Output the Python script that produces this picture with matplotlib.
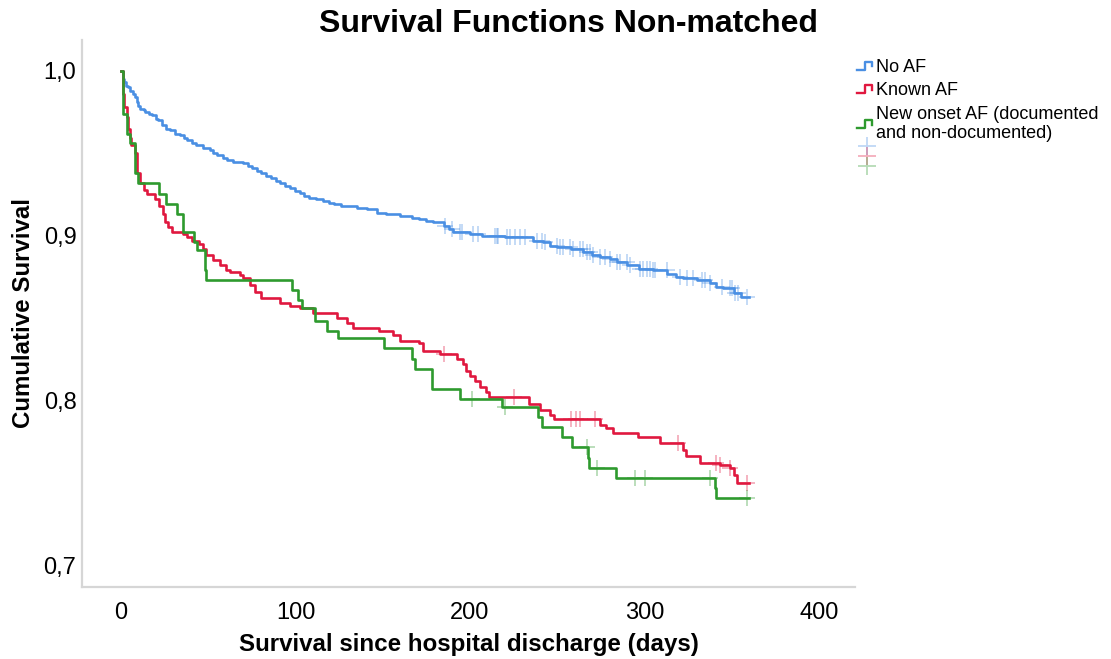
import numpy as np
import matplotlib
matplotlib.use("Agg")
import matplotlib.pyplot as plt
from matplotlib.lines import Line2D
from matplotlib.legend_handler import HandlerBase

plt.rcParams['font.family'] = ['Liberation Sans', 'DejaVu Sans']

# ---------------- data ----------------
title = "Survival Functions Non-matched"
x_label = "Survival since hospital discharge (days)"
y_label = "Cumulative Survival"
series_names = ["No AF", "Known AF", "New onset AF (documented\nand non-documented)"]
x_ticks = [0, 100, 200, 300, 400]
y_ticks = [0.7, 0.8, 0.9, 1.0]
y_tick_labels = ["0,7", "0,8", "0,9", "1,0"]
end_day = 360

no_af_days = [0, 1, 2, 3, 4, 5, 7, 8, 9, 10, 11, 13, 14, 16, 18, 20, 21, 23.5, 26, 28, 31, 34,
              36, 38, 41, 43, 47, 51, 53, 55, 58.5, 61, 64, 70, 73, 75, 78, 80, 83, 86, 89, 91,
              94, 97, 100, 102.6, 105, 108, 112, 116, 119, 122, 126, 129.5, 135, 141, 147,
              152, 160, 167, 171, 175, 179, 185, 188, 190, 200, 207, 220, 236, 242, 246, 250,
              258, 265, 270, 274.5, 280, 284, 290, 297, 305, 313, 318, 322, 330, 337.5, 341,
              345, 351, 355]
no_af_surv = [1.0, 0.995, 0.993, 0.991, 0.990, 0.988, 0.986, 0.984, 0.981, 0.979, 0.977, 0.976,
              0.975, 0.974, 0.973, 0.971, 0.970, 0.967, 0.965, 0.964, 0.962, 0.961, 0.959,
              0.958, 0.956, 0.955, 0.953, 0.952, 0.950, 0.949, 0.947, 0.946, 0.945, 0.944,
              0.942, 0.941, 0.939, 0.938, 0.936, 0.935, 0.933, 0.932, 0.930, 0.929, 0.927,
              0.926, 0.924, 0.923, 0.922, 0.921, 0.920, 0.919, 0.918, 0.918, 0.917, 0.916,
              0.914, 0.913, 0.912, 0.911, 0.910, 0.909, 0.908, 0.906, 0.904, 0.902, 0.901,
              0.900, 0.899, 0.897, 0.896, 0.894, 0.893, 0.892, 0.890, 0.888, 0.887, 0.886,
              0.884, 0.882, 0.880, 0.879, 0.877, 0.875, 0.874, 0.873, 0.871, 0.869, 0.868,
              0.865, 0.863]
no_af_censored = [185.7, 189.5, 194.3, 195.2, 201.9, 204.8, 214.3, 215.3, 216.2, 221.0, 222.9,
                  225.8, 228.7, 231.5, 238.2, 241.1, 243.0, 249.7, 251.6, 253.5, 257.3, 259.2,
                  263.0, 264.9, 266.9, 268.8, 270.7, 274.5, 277.4, 280.2, 284.1, 286.0, 289.8,
                  291.7, 297.4, 299.3, 301.3, 303.2, 305.0, 306.0, 312.7, 320.3, 324.2, 328.0,
                  332.8, 334.7, 337.5, 344.2, 349.0, 350.0, 351.8, 353.8, 358.6]

known_af_days = [0, 1, 2, 3.4, 4, 5, 6, 8, 9, 11, 13, 15, 19.5, 22, 24, 25, 27, 29, 35.5, 38,
                 41, 45, 47, 49, 53, 57, 60, 62.5, 68, 70, 74, 77, 80, 91, 97, 102.6, 110, 124,
                 129.5, 133, 148, 156, 160, 171, 173, 183, 192.5, 196, 198, 200, 203, 206, 209,
                 211, 234, 240, 246, 248, 274.5, 278, 282, 296, 309, 322, 324, 332, 343, 349,
                 351, 353]
known_af_surv = [1.0, 0.986, 0.978, 0.972, 0.965, 0.959, 0.955, 0.950, 0.938, 0.932, 0.928,
                 0.925, 0.922, 0.918, 0.913, 0.908, 0.905, 0.902, 0.901, 0.899, 0.897, 0.895,
                 0.892, 0.888, 0.885, 0.882, 0.879, 0.878, 0.876, 0.874, 0.870, 0.866, 0.862,
                 0.859, 0.857, 0.856, 0.853, 0.850, 0.847, 0.844, 0.842, 0.840, 0.836, 0.835,
                 0.830, 0.828, 0.825, 0.822, 0.818, 0.815, 0.812, 0.808, 0.805, 0.802, 0.798,
                 0.794, 0.791, 0.789, 0.785, 0.783, 0.780, 0.778, 0.774, 0.770, 0.766, 0.762,
                 0.761, 0.759, 0.755, 0.750]
known_af_censored = [185, 225, 258, 261, 263, 271.6, 319, 341, 343, 349, 359]

new_af_days = [0, 1.3, 3.4, 5, 8, 10, 22, 26, 32, 35.5, 42, 43.5, 48, 49, 98, 101.7, 104, 111,
               118, 124.5, 151, 167, 168.5, 178.5, 194, 218.5, 239, 241, 253, 258.5, 267.6,
               268, 283.6, 340.5, 341]
new_af_surv = [1.0, 0.974, 0.962, 0.956, 0.938, 0.932, 0.925, 0.919, 0.913, 0.902, 0.896,
               0.891, 0.879, 0.873, 0.867, 0.861, 0.856, 0.848, 0.842, 0.838, 0.832, 0.825,
               0.819, 0.807, 0.801, 0.796, 0.790, 0.784, 0.778, 0.772, 0.765, 0.759, 0.753,
               0.747, 0.741]
new_af_censored = [201, 220, 267, 273, 294.5, 300, 337.5, 359]

colors = ["#4a8fe3", "#e0183f", "#2e9a2e"]

# ---------------- figure ----------------
fig = plt.figure(figsize=(11.11, 6.59), dpi=100)
ax = fig.add_axes([82 / 1111, 72 / 659, (855 - 82) / 1111, (587 - 40) / 659])

groups = [
    (no_af_days, no_af_surv, no_af_censored),
    (known_af_days, known_af_surv, known_af_censored),
    (new_af_days, new_af_surv, new_af_censored),
]

line_handles = []
for (d, s, c), col in zip(groups, colors):
    d = np.array(list(d) + [end_day], dtype=float)
    s = np.array(list(s) + [s[-1]], dtype=float)
    ln, = ax.step(d, s, where="post", color=col, lw=1.9, zorder=3)
    line_handles.append(ln)
    c = np.array(c, dtype=float)
    idx = np.searchsorted(d, c, side="right") - 1
    ax.plot(c, s[idx], linestyle="none", marker="+", markersize=11, mew=1.3,
            color=col, alpha=0.35, zorder=2)

ax.set_xlim(-22.3, 420.6)
ax.set_ylim(0.6867, 1.0188)
ax.set_xticks(x_ticks)
ax.set_yticks(y_ticks)
ax.set_yticklabels(y_tick_labels)
ax.tick_params(axis="both", length=0, labelsize=17)
ax.tick_params(axis="x", pad=11)
ax.tick_params(axis="y", pad=4)
for sp in ["top", "right"]:
    ax.spines[sp].set_visible(False)
for sp in ["left", "bottom"]:
    ax.spines[sp].set_color("#d6d6d6")
    ax.spines[sp].set_linewidth(1.6)

ax.set_xlabel(x_label, fontsize=17.4, fontweight="bold", labelpad=6)
ax.set_ylabel(y_label, fontsize=17.4, fontweight="bold", labelpad=6)
fig.text(568 / 1111, 1 - 24 / 659, title, fontsize=23, fontweight="bold",
         ha="center", va="center")


class StepHandler(HandlerBase):
    def create_artists(self, legend, orig_handle, xdescent, ydescent, width, height,
                       fontsize, trans):
        xs = np.array([0.0, 0.5, 0.5, 0.9, 0.9]) * width - xdescent
        ys = (np.array([0.15, 0.15, 0.85, 0.85, 0.45]) * height) - ydescent
        l = Line2D(xs, ys, color=orig_handle.get_color(), lw=1.7, transform=trans)
        return [l]


leg = fig.legend(line_handles, series_names, loc="upper left",
                 bbox_to_anchor=(857 / 1111, 1 - 59 / 659), frameon=False,
                 fontsize=13, handler_map={Line2D: StepHandler()},
                 handlelength=0.9, handleheight=0.6, handletextpad=0.15,
                 labelspacing=0.35, borderpad=0, borderaxespad=0)

cross_handles = [Line2D([], [], linestyle="none", marker="+", markersize=13, mew=1.3,
                        color=col, alpha=0.35) for col in colors]
leg2 = fig.legend(cross_handles, ["", "", ""], loc="upper left",
                  bbox_to_anchor=(857 / 1111, 1 - 143 / 659), frameon=False,
                  fontsize=5, handlelength=2.8, handletextpad=0, labelspacing=0.45,
                  borderpad=0, borderaxespad=0)

fig.savefig("out.png", dpi=100)
